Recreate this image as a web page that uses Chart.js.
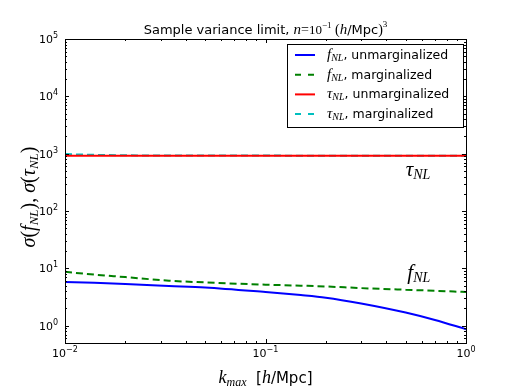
<!DOCTYPE html>
<html>
<head>
<meta charset="utf-8">
<script src="https://cdn.jsdelivr.net/npm/chart.js@4"></script>
<style>
html,body{margin:0;padding:0;background:#fff;}
canvas{display:block;}
</style>
</head>
<body>
<canvas id="c" width="518" height="390"></canvas>
<script>
// ---- data ----
const kmax       = [0.01, 0.014, 0.02, 0.033, 0.05, 0.1, 0.15, 0.2, 0.3, 0.5, 0.7, 1.0];
const fnlUnmarg  = [5.8, 5.6, 5.35, 4.95, 4.65, 3.87, 3.43, 3.09, 2.45, 1.70, 1.26, 0.87];
const fnlMarg    = [8.7, 7.8, 7.05, 6.1, 5.7, 5.2, 5.0, 4.84, 4.53, 4.24, 4.07, 3.87];
const tauUnmarg  = [925, 925, 925, 925, 925, 925, 925, 925, 925, 925, 925, 925];
const tauMarg    = [985, 955, 938, 930, 928, 926, 925, 925, 925, 925, 925, 925];

const seriesSymbols = ['f', 'f', 'τ', 'τ'];
const seriesText    = ['unmarginalized', 'marginalized', 'unmarginalized', 'marginalized'];
const seriesColors  = ['#0000ff', '#008000', '#ff0000', '#00bfbf'];
const seriesDashed  = [false, true, false, true];

const xTickValues = [0.01, 0.1, 1];
const xTickExps   = ['−2', '−1', '0'];
const yTickValues = [1, 10, 100, 1000, 10000, 100000];
const yTickExps   = ['0', '1', '2', '3', '4', '5'];

const annotSymbols = ['τ', 'f'];
const annotX = [0.5, 0.51];
const annotY = [410, 6.6];

const SANS = '"DejaVu Sans"';
const SERIF = '"Liberation Serif"';

function pts(ys) { return kmax.map((k, i) => ({x: k, y: ys[i]})); }
const allSeries = [fnlUnmarg, fnlMarg, tauUnmarg, tauMarg];

const datasets = allSeries.map((ys, i) => ({
  label: seriesSymbols[i] + 'NL, ' + seriesText[i],
  data: pts(ys),
  borderColor: seriesColors[i],
  backgroundColor: seriesColors[i],
  borderWidth: 2,
  borderDash: seriesDashed[i] ? [7, 4] : [],
  pointRadius: 0,
  fill: false,
  cubicInterpolationMode: 'monotone'
}));

function drawRuns(ctx, runs, x, y, align) {
  let total = 0;
  runs.forEach(r => { ctx.font = r.f; r.w = ctx.measureText(r.t).width; total += r.w; });
  let cx = align === 'center' ? x - total / 2 : (align === 'right' ? x - total : x);
  ctx.textAlign = 'left';
  ctx.textBaseline = 'alphabetic';
  runs.forEach(r => { ctx.font = r.f; ctx.fillText(r.t, cx, y + (r.dy || 0)); cx += r.w; });
  return total;
}

const customPlugin = {
  id: 'custom',
  afterDraw(chart) {
    const ctx = chart.ctx;
    const a = chart.chartArea;
    const xs = chart.scales.x, ys = chart.scales.y;
    ctx.save();
    ctx.fillStyle = '#000';
    ctx.strokeStyle = '#000';
    ctx.lineWidth = 1;

    // ticks
    ctx.beginPath();
    for (let d = -2; d <= 0; d++) {
      for (let m = 1; m <= 9; m++) {
        const v = m * Math.pow(10, d);
        if (v > 1.0001) continue;
        const px = Math.round(xs.getPixelForValue(v)) + 0.5;
        const len = m === 1 ? 4 : 2;
        ctx.moveTo(px, a.bottom); ctx.lineTo(px, a.bottom - len);
        ctx.moveTo(px, a.top); ctx.lineTo(px, a.top + len);
      }
    }
    for (let d = -1; d <= 5; d++) {
      for (let m = 1; m <= 9; m++) {
        const v = m * Math.pow(10, d);
        if (v < 0.5 || v > 100001) continue;
        const py = Math.round(ys.getPixelForValue(v)) + 0.5;
        const len = m === 1 ? 4 : 2;
        ctx.moveTo(a.left, py); ctx.lineTo(a.left + len, py);
        ctx.moveTo(a.right, py); ctx.lineTo(a.right - len, py);
      }
    }
    ctx.stroke();

    // frame
    ctx.strokeRect(Math.round(a.left) + 0.5, Math.round(a.top) + 0.5,
                   Math.round(a.right - a.left), Math.round(a.bottom - a.top));

    // x tick labels
    xTickValues.forEach((v, i) => {
      const px = xs.getPixelForValue(v);
      drawRuns(ctx, [
        {t: '10', f: '11px ' + SANS},
        {t: xTickExps[i], f: '8px ' + SANS, dy: -5}
      ], px, a.bottom + 14, 'center');
    });
    // y tick labels
    yTickValues.forEach((v, i) => {
      const py = ys.getPixelForValue(v);
      drawRuns(ctx, [
        {t: '10', f: '11px ' + SANS},
        {t: yTickExps[i], f: '8px ' + SANS, dy: -5}
      ], a.left - 7, py + 4, 'right');
    });

    // title
    const it = 'italic 15px ' + SERIF;
    drawRuns(ctx, [
      {t: 'Sample variance limit, ', f: '13px ' + SANS},
      {t: 'n', f: it},
      {t: '=', f: '14px ' + SERIF},
      {t: '10', f: '13px ' + SERIF},
      {t: '−1', f: '9px ' + SERIF, dy: -6},
      {t: ' (', f: '14px ' + SERIF},
      {t: 'h', f: it},
      {t: '/Mpc', f: '13px ' + SANS},
      {t: ')', f: '14px ' + SERIF},
      {t: '3', f: '9px ' + SERIF, dy: -7}
    ], (a.left + a.right) / 2, a.top - 5, 'center');

    // x axis label
    drawRuns(ctx, [
      {t: 'k', f: 'italic 18px ' + SERIF},
      {t: 'max', f: 'italic 12px ' + SERIF, dy: 3},
      {t: '  [', f: '15px ' + SANS},
      {t: 'h', f: 'italic 18px ' + SERIF},
      {t: '/Mpc]', f: '15px ' + SANS}
    ], (a.left + a.right) / 2, 383, 'center');

    // y axis label
    ctx.save();
    ctx.translate(35, 197);
    ctx.rotate(-Math.PI / 2);
    const yl = 'italic 20px ' + SERIF, yr = '20px ' + SERIF, ys2 = 'italic 13px ' + SERIF;
    drawRuns(ctx, [
      {t: 'σ', f: yl}, {t: '(', f: yr}, {t: 'f', f: yl}, {t: 'NL', f: ys2, dy: 3}, {t: ')', f: yr},
      {t: ', ', f: yr},
      {t: 'σ', f: yl}, {t: '(', f: yr}, {t: 'τ', f: yl}, {t: 'NL', f: ys2, dy: 3}, {t: ')', f: yr}
    ], 0, 0, 'center');
    ctx.restore();

    // annotations
    annotSymbols.forEach((s, i) => {
      drawRuns(ctx, [
        {t: s, f: 'italic 21px ' + SERIF},
        {t: 'NL', f: 'italic 14px ' + SERIF, dy: 3}
      ], xs.getPixelForValue(annotX[i]), ys.getPixelForValue(annotY[i]), 'left');
    });

    // legend
    const bx = Math.round(a.right) - 179, by = Math.round(a.top) + 5, bw = 176, bh = 83;
    ctx.fillStyle = '#fff';
    ctx.fillRect(bx, by, bw, bh);
    ctx.strokeStyle = '#000';
    ctx.lineWidth = 1;
    ctx.strokeRect(bx + 0.5, by + 0.5, bw, bh);
    chart.data.datasets.forEach((ds, i) => {
      const ry = by + 11 + i * 19.7;
      ctx.save();
      ctx.strokeStyle = ds.borderColor;
      ctx.lineWidth = 2;
      ctx.setLineDash(seriesDashed[i] ? [6, 7] : []);
      ctx.beginPath();
      ctx.moveTo(bx + 8, ry); ctx.lineTo(bx + 28, ry);
      ctx.stroke();
      ctx.restore();
      ctx.fillStyle = '#000';
      drawRuns(ctx, [
        {t: seriesSymbols[i], f: 'italic 15px ' + SERIF},
        {t: 'NL', f: 'italic 10px ' + SERIF, dy: 2},
        {t: ', ' + seriesText[i], f: '12.5px ' + SANS}
      ], bx + 40, ry + 4, 'left');
    });

    ctx.restore();
  }
};

new Chart(document.getElementById('c'), {
  type: 'line',
  data: { datasets },
  options: {
    responsive: false,
    animation: false,
    layout: { padding: { left: 0, right: 52, top: 39, bottom: 0 } },
    plugins: { legend: { display: false }, title: { display: false }, tooltip: { enabled: false } },
    scales: {
      x: {
        type: 'logarithmic', min: 0.01, max: 1,
        grid: { display: false }, border: { display: false },
        ticks: { display: false },
        afterFit(s) { s.height = 47; }
      },
      y: {
        type: 'logarithmic', min: 0.5, max: 100000,
        grid: { display: false }, border: { display: false },
        ticks: { display: false },
        afterFit(s) { s.width = 65; }
      }
    }
  },
  plugins: [customPlugin]
});
</script>
</body>
</html>
